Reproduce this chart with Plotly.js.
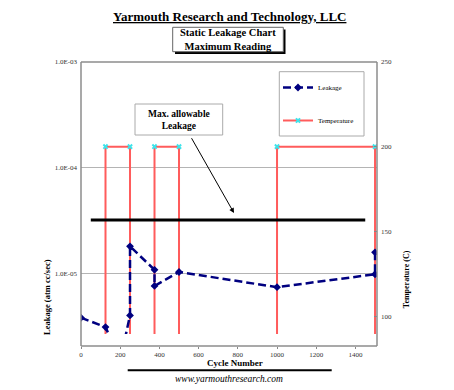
<!DOCTYPE html>
<html><head><meta charset="utf-8">
<script src="https://cdn.plot.ly/plotly-3.0.1.min.js"></script>
<style>body{margin:0;background:#fff}#c{width:454px;height:390px}</style>
</head><body><div id="c"></div><script>
// ---- data ----
const cycles=[0,125,200,250,250,375,375,500,1000,1500,1500];
const leakage=[3.8e-6,3.1e-6,1.5e-6,4.0e-6,1.8e-5,1.08e-5,7.6e-6,1.03e-5,7.4e-6,9.8e-6,1.58e-5];
const tempCycles=[125,125,250,250,375,375,500,500,1000,1000,1500,1500];
const temperature=[25,200,200,25,25,200,200,25,25,200,200,25];
const limitCycles=[50,1450];
const limitLeak=[3.2e-5,3.2e-5];
const xTicks=[0,200,400,600,800,1000,1200,1400];
const leakTickVals=[1e-5,1e-4,1e-3];
const leakTickText=['1.0E-05','1.0E-04','1.0E-03'];
const tempTicks=[100,150,200,250];

// ---- layout helpers (pixel -> paper) ----
const L=81,R=377,T=62,B=346,DB=334;
const px=x=>(x-L)/(R-L);
const py=y=>(B-y)/(B-T);
const FONT='Liberation Serif';
const dBot=(B-DB)/(B-T);

const traces=[
 {x:tempCycles,y:temperature,yaxis:'y',name:'Temperature',mode:'lines+markers',
  line:{color:'#ff5c5c',width:2},marker:{symbol:'x',size:5,color:'#3fe3ea'},
  legendgroup:'t',legendrank:2},
 {x:limitCycles,y:limitLeak,yaxis:'y2',name:'Max',mode:'lines',
  line:{color:'#000',width:3},showlegend:false},
 {x:cycles,y:leakage,yaxis:'y2',name:'Leakage',mode:'lines+markers',
  line:{color:'#000080',width:2.5,dash:'8px,4px'},marker:{symbol:'diamond',size:6,color:'#000080'},
  legendgroup:'l',legendrank:1}
];

const tf={family:FONT,size:7,color:'#333'};
const line=(x0,y0,x1,y1,c,w)=>({type:'line',xref:'paper',yref:'paper',x0:px(x0),y0:py(y0),x1:px(x1),y1:py(y1),line:{color:c,width:w}});
const rect=(x0,y0,x1,y1,fill,lc,w)=>({type:'rect',xref:'paper',yref:'paper',x0:px(x0),y0:py(y0),x1:px(x1),y1:py(y1),fillcolor:fill,line:{color:lc,width:w}});
const ann=(x,y,text,size,extra)=>Object.assign({xref:'paper',yref:'paper',x:px(x),y:py(y),text:text,showarrow:false,
  xanchor:'center',yanchor:'middle',font:{family:FONT,size:size,color:'#000'}},extra||{});

const layout={
 width:454,height:390,margin:{l:L,r:454-R,t:T,b:390-B},
 paper_bgcolor:'#fff',plot_bgcolor:'#fff',
 font:{family:FONT},
 xaxis:{domain:[0,1],range:[0,1510],anchor:'free',position:0,tickvals:xTicks,ticks:'outside',ticklen:2,
   tickcolor:'#888',showline:false,showgrid:false,zeroline:false,tickfont:tf,ticklabelstandoff:0},
 yaxis:{domain:[dBot,1],range:[89.4,250],side:'right',anchor:'x',tickvals:tempTicks,ticks:'inside',ticklen:3,
   tickcolor:'#888',showgrid:false,zeroline:false,showline:false,tickfont:tf,ticklabelstandoff:3},
 yaxis2:{overlaying:'y',side:'left',anchor:'x',type:'log',range:[-5.574,-3],tickvals:leakTickVals,ticktext:leakTickText,
   showgrid:true,gridcolor:'#b4b4b4',gridwidth:1,ticks:'',zeroline:false,showline:false,tickfont:tf,ticklabelstandoff:3},
 showlegend:true,
 legend:{x:px(278),y:py(73),xanchor:'left',yanchor:'top',bgcolor:'rgba(0,0,0,0)',borderwidth:0,
   font:{family:FONT,size:7,color:'#000'},traceorder:'grouped',tracegroupgap:14,itemwidth:30},
 shapes:[
   line(L,T,L,B,'#8c8c8c',1.5), line(L,T,R,T,'#8c8c8c',1.5), line(R,T,R,B,'#8c8c8c',1.5), line(L,B,R,B,'#8c8c8c',1.5),
   rect(175,29.5,285.5,54,'#000','#000',0), rect(172.7,27.3,283.3,51.7,'#fff','#666',1),
   rect(135,104,222.7,135,'#fff','#aaa',1),
   rect(279.3,71.7,364,136,'#fff','#aaa',1),
   line(127.7,370.3,331.7,370.3,'#000',2)
 ],
 annotations:[
   ann(229,16,'<b><u>Yarmouth Research and Technology, LLC</u></b>',13),
   ann(228,39.5,'<b>Static Leakage Chart<br>Maximum Reading</b>',10.5),
   ann(179,120,'<b>Max. allowable<br>Leakage</b>',9.5),
   {xref:'paper',yref:'paper',x:px(234),y:py(213),ax:-43.3,ay:-76.3,text:'',showarrow:true,
    arrowhead:2,arrowsize:1,arrowwidth:1,arrowcolor:'#000'},
   ann(47,297,'<b>Leakage (atm cc/sec)</b>',8.5,{textangle:-90}),
   ann(406.7,279.5,'<b>Temperature (C)</b>',8,{textangle:-90}),
   ann(235,362.5,'<b>Cycle Number</b>',9),
   ann(229,379,'<i>www.yarmouthresearch.com</i>',9.5)
 ]
};
Plotly.newPlot('c',traces,layout,{displayModeBar:false,staticPlot:true});
</script></body></html>
